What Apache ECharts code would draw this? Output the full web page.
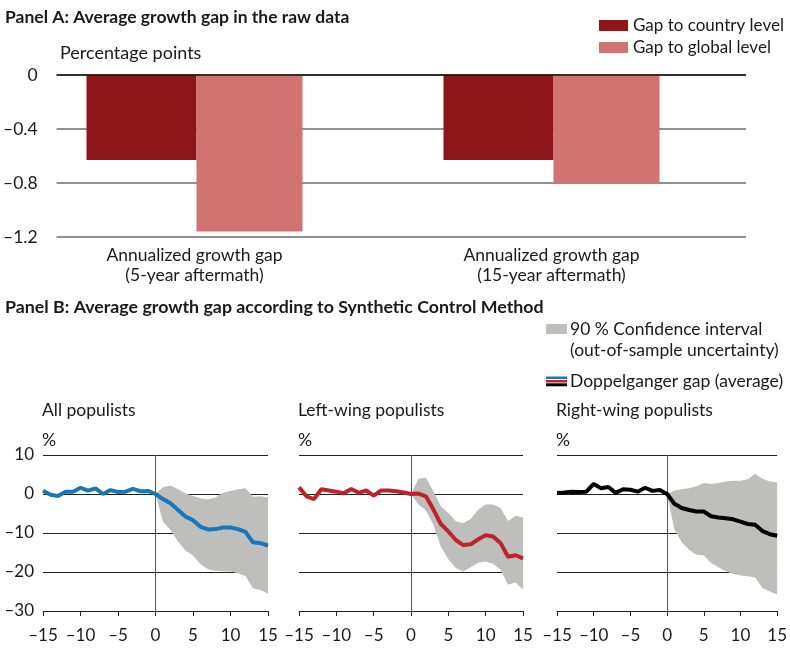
<!DOCTYPE html>
<html>
<head>
<meta charset="utf-8">
<script src="https://cdn.jsdelivr.net/npm/echarts@6/dist/echarts.min.js"></script>
<style>html,body{margin:0;padding:0;background:#fff}#c{width:790px;height:650px}</style>
</head>
<body>
<div id="c"></div>
<script>
// ---------- Panel A data ----------
var barCategories = ['Annualized growth gap\n(5-year aftermath)', 'Annualized growth gap\n(15-year aftermath)'];
var gapCountry = [-0.63, -0.63];
var gapGlobal = [-1.16, -0.80];
var barSeriesNames = ['Gap to country level', 'Gap to global level'];

// ---------- Panel B data ----------
var years = [-15,-14,-13,-12,-11,-10,-9,-8,-7,-6,-5,-4,-3,-2,-1,0,1,2,3,4,5,6,7,8,9,10,11,12,13,14,15];
var bandYears = [0,1,2,3,4,5,6,7,8,9,10,11,12,13,14,15];
var panelTitles = ['All populists', 'Left-wing populists', 'Right-wing populists'];

var allGap = [0.85,-0.2,-0.5,0.6,0.6,1.6,0.85,1.45,0,1,0.5,0.6,1.3,0.7,0.8,0,-1.3,-2.4,-4.1,-5.8,-6.7,-8.4,-9.1,-9.0,-8.6,-8.6,-9.0,-9.7,-12.4,-12.6,-13.2];
var allUpper = [0,1.7,2.2,1.2,0.2,-0.5,-1.1,-1.4,-0.9,0.3,0.8,1.2,1.5,-0.7,-0.6,-0.9];
var allLower = [0,-7.1,-9.2,-12.2,-14.5,-15.8,-18.0,-19.3,-19.7,-19.8,-19.9,-20.3,-21.0,-24.2,-24.6,-25.5];

var leftGap = [1.7,-0.6,-1.3,1.2,0.9,0.6,0.2,1.3,0.3,0.9,-0.4,0.9,0.9,0.7,0.4,0,0.1,-0.6,-4.0,-7.7,-9.6,-11.8,-13.1,-12.9,-11.6,-10.6,-10.9,-12.6,-16.1,-15.7,-16.5];
var leftUpper = [0,3.9,4.2,0.7,-3.2,-4.9,-7.0,-7.5,-6.4,-4.0,-2.7,-2.7,-3.6,-6.9,-5.6,-6.0];
var leftLower = [0,-2.7,-4.2,-7.9,-13.5,-16.7,-19.0,-19.9,-18.8,-17.6,-17.3,-17.9,-19.5,-23.3,-22.7,-24.5];

var rightGap = [0.25,0.4,0.6,0.5,0.6,2.6,1.5,1.8,0.3,1.2,1.1,0.6,1.6,0.8,1.0,0,-2.5,-3.6,-4.1,-4.5,-4.5,-5.7,-6.0,-6.2,-6.5,-7.1,-7.7,-7.9,-9.5,-10.3,-10.7];
var rightUpper = [0,0.9,1.2,1.5,2.0,2.8,2.6,2.8,3.2,3.4,3.4,3.8,5.2,3.9,3.2,3.0];
var rightLower = [0,-9.1,-12.4,-14.3,-15.6,-15.8,-17.7,-18.8,-19.8,-20.5,-20.9,-21.1,-21.4,-24.1,-25.0,-25.8];

var yTicksA = [0, -0.4, -0.8, -1.2];
var yTicksB = [10, 0, -10, -20, -30];
var xTicksB = [-15, -10, -5, 0, 5, 10, 15];

// ---------- styling ----------
var FONT = 'Lato, "Noto Sans", sans-serif';
var DARK_RED = '#8e1518';
var LIGHT_RED = '#d07371';
var BAND = '#bebebc';
var LINE_COLORS = ['#1a75bb', '#c0222a', '#000000'];
var TXT = '#1a1a1a';

function dash(v) { return String(v).replace('-', '\u2013'); }
function isTick(idx, val) { return xTicksB.indexOf(Number(val)) >= 0; }
// align band values (defined from year 0) onto the full year category axis
function onYears(bx, vals) {
  return years.map(function (y) { var i = bx.indexOf(y); return i >= 0 ? vals[i] : '-'; });
}

var chart = echarts.init(document.getElementById('c'), null, { renderer: 'canvas' });

var grids = [
  { left: 55, top: 75, width: 691, height: 162 },   // A: axis / gridlines
  { left: 16, top: 75, width: 714, height: 162 },   // A: bars
  { left: 43, top: 455, width: 225, height: 156 },
  { left: 299, top: 455, width: 224, height: 156 },
  { left: 557, top: 455, width: 224, height: 156 }
];

var xAxes = [
  { gridIndex: 0, type: 'category', data: barCategories, show: false },
  { gridIndex: 1, type: 'category', data: barCategories,
    axisLine: { show: false }, axisTick: { show: false },
    axisLabel: { color: TXT, fontSize: 17.5, fontFamily: FONT, lineHeight: 20, margin: 8 } }
];
var yAxes = [
  { gridIndex: 0, type: 'value', min: -1.2, max: 0, interval: 0.4,
    axisLine: { show: false }, axisTick: { show: false },
    axisLabel: { color: TXT, fontSize: 17.5, fontFamily: FONT, margin: 19,
      formatter: function (v) { var s = Math.abs(v) < 1e-9 ? '0' : v.toFixed(1); return dash(s); } },
    splitLine: { lineStyle: { color: '#6b6b6b', width: 1.5 } } },
  { gridIndex: 1, type: 'value', min: -1.2, max: 0, interval: 0.4, show: false, splitLine: { show: false } }
];

var series = [
  { name: barSeriesNames[0], type: 'bar', xAxisIndex: 1, yAxisIndex: 1, data: gapCountry,
    barWidth: 110, barGap: '0%', itemStyle: { color: DARK_RED } },
  { name: barSeriesNames[1], type: 'bar', xAxisIndex: 1, yAxisIndex: 1, data: gapGlobal,
    barWidth: 106, barGap: '0%', itemStyle: { color: LIGHT_RED } },
  { type: 'line', xAxisIndex: 0, yAxisIndex: 0, data: [], silent: true,
    markLine: { symbol: 'none', silent: true, label: { show: false },
      lineStyle: { color: '#111', width: 1.5, type: 'solid' }, data: [{ yAxis: 0 }] } }
];

var panels = [
  { gap: allGap, upper: allUpper, lower: allLower },
  { gap: leftGap, upper: leftUpper, lower: leftLower },
  { gap: rightGap, upper: rightUpper, lower: rightLower }
];

panels.forEach(function (p, k) {
  var gi = k + 2;
  xAxes.push({ gridIndex: gi, type: 'category', data: years.map(String), boundaryGap: false,
    axisLine: { show: true, onZero: false, lineStyle: { color: '#222', width: 1 } },
    axisTick: { show: true, length: 5, interval: isTick, lineStyle: { color: '#222' } },
    axisLabel: { color: TXT, fontSize: 17, fontFamily: FONT, margin: 16, interval: isTick, formatter: dash },
    splitLine: { show: false } });
  yAxes.push({ gridIndex: gi, type: 'value', min: -30, max: 10, interval: 10,
    axisLine: { show: false }, axisTick: { show: false },
    axisLabel: { show: k === 0, color: TXT, fontSize: 17, fontFamily: FONT, margin: 9, formatter: dash },
    splitLine: { lineStyle: { color: '#222', width: 1 } } });
  var diff = p.upper.map(function (u, i) { return u - p.lower[i]; });
  series.push({ type: 'line', xAxisIndex: gi, yAxisIndex: gi, stack: 'band' + k, stackStrategy: 'all', symbol: 'none',
    data: onYears(bandYears, p.lower), lineStyle: { opacity: 0 }, silent: true, z: 2 });
  series.push({ type: 'line', xAxisIndex: gi, yAxisIndex: gi, stack: 'band' + k, stackStrategy: 'all', symbol: 'none',
    data: onYears(bandYears, diff), lineStyle: { opacity: 0 }, areaStyle: { color: BAND, opacity: 1 }, silent: true, z: 2,
    markLine: { symbol: 'none', silent: true, label: { show: false },
      lineStyle: { color: '#555', width: 1, type: 'solid' }, data: [{ xAxis: years.indexOf(0) }] } });
  series.push({ type: 'line', xAxisIndex: gi, yAxisIndex: gi, symbol: 'none',
    data: p.gap, lineStyle: { color: LINE_COLORS[k], width: 4 }, z: 5 });
});

var txt = function (left, top, text, opts) {
  return { type: 'text', left: left, top: top,
    style: Object.assign({ text: text, fill: TXT, font: '17.5px ' + FONT }, opts || {}) };
};

var graphics = [
  txt(5, 8, 'Panel A: Average growth gap in the raw data', { font: 'bold 17.5px ' + FONT }),
  txt(60, 44, 'Percentage points', { font: '18px ' + FONT }),
  txt(5, 298, 'Panel B: Average growth gap according to Synthetic Control Method', { font: 'bold 17.8px ' + FONT }),
  { type: 'rect', shape: { x: 546, y: 324, width: 21, height: 10 }, style: { fill: BAND } },
  txt(570, 320, '90 % Confidence interval'),
  txt(570, 341.5, '(out-of-sample uncertainty)'),
  { type: 'rect', shape: { x: 546, y: 376.5, width: 21, height: 2.5 }, style: { fill: LINE_COLORS[0] } },
  { type: 'rect', shape: { x: 546, y: 380, width: 21, height: 2.5 }, style: { fill: LINE_COLORS[1] } },
  { type: 'rect', shape: { x: 546, y: 383.3, width: 21, height: 3 }, style: { fill: LINE_COLORS[2] } },
  txt(570, 372, 'Doppelganger gap (average)')
];
[42, 298, 556].forEach(function (x, k) {
  graphics.push(txt(x, 401.5, panelTitles[k]));
  graphics.push(txt(x, 431, '%'));
});

chart.setOption({
  animation: false,
  textStyle: { fontFamily: FONT },
  legend: { orient: 'vertical', left: 594, top: 12, itemWidth: 29, itemHeight: 11, itemGap: 5,
    data: barSeriesNames, textStyle: { fontSize: 17, color: TXT, fontFamily: FONT },
    icon: 'rect', selectedMode: false },
  grid: grids,
  xAxis: xAxes,
  yAxis: yAxes,
  series: series,
  graphic: graphics
});
</script>
</body>
</html>
